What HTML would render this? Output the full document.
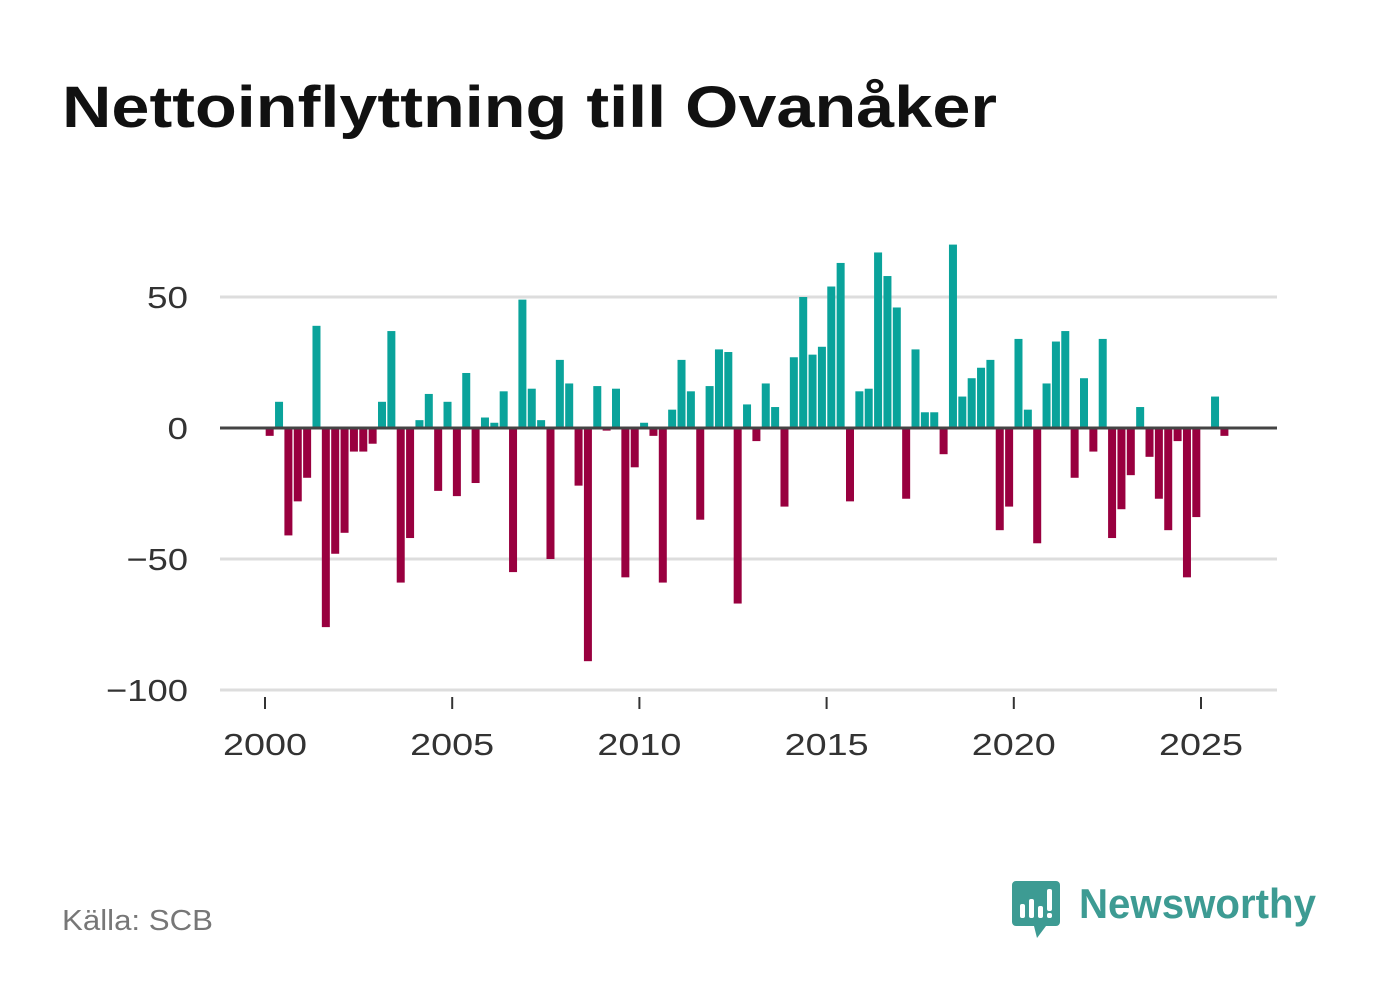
<!DOCTYPE html>
<html><head><meta charset="utf-8"><style>
html,body{margin:0;padding:0;background:#fff;width:1382px;height:999px;overflow:hidden}
svg{display:block;font-family:"Liberation Sans",sans-serif}
</style></head><body>
<svg width="1382" height="999" viewBox="0 0 1382 999">
<text x="62" y="127" font-size="58" font-weight="bold" fill="#111" textLength="935" lengthAdjust="spacingAndGlyphs">Nettoinflyttning till Ovanåker</text>
<g id="grid"></g>
<g id="bars"></g>
<g id="xaxis"></g>
<text x="62" y="930" font-size="29" fill="#777" textLength="151" lengthAdjust="spacingAndGlyphs">Källa: SCB</text>
<g>
<path d="M1016 881 h40 a4 4 0 0 1 4 4 v37 a4 4 0 0 1 -4 4 h-10 l-9 12 l-3 -12 h-18 a4 4 0 0 1 -4 -4 v-37 a4 4 0 0 1 4 -4z" fill="#3d9b93"/>
<rect x="1020" y="904" width="5" height="14" rx="2" fill="#fff"/>
<rect x="1029" y="899" width="5" height="19" rx="2" fill="#fff"/>
<rect x="1038" y="906" width="5" height="12" rx="2" fill="#fff"/>
<rect x="1047" y="889" width="5" height="22" rx="2" fill="#fff"/>
<rect x="1047" y="913" width="5" height="5" rx="2" fill="#fff"/>
<text x="1079" y="918" font-size="42" font-weight="bold" fill="#3d9b93" textLength="237" lengthAdjust="spacingAndGlyphs">Newsworthy</text>
</g>
</svg>
<script>
const years=[2000,2005,2010,2015,2020,2025];
const yTicks=[50,0,-50,-100];
const yTickLabels=["50","0","\u221250","\u2212100"];
const values=[-3,10,-41,-28, -19,39,-76,-48, -40,-9,-9,-6, 10,37,-59,-42, 3,13,-24,10,
 -26,21,-21,4, 2,14,-55,49, 15,3,-50,26, 17,-22,-89,16, -1,15,-57,-15,
 2,-3,-59,7, 26,14,-35,16, 30,29,-67,9, -5,17,8,-30, 27,50,28,31,
 54,63,-28,14, 15,67,58,46, -27,30,6,6, -10,70,12,19, 23,26,-39,-30,
 34,7,-44,17, 33,37,-19,19, -9,34,-42,-31, -18,8,-11,-27, -39,-5,-57,-34,
 0,12,-3];
const NS="http://www.w3.org/2000/svg";
const x=t=>265+(t-2000)*37.44;
const y=v=>428-v*2.62;
function mk(tag,attrs,parent){const e=document.createElementNS(NS,tag);for(const k in attrs)e.setAttribute(k,attrs[k]);parent.appendChild(e);return e;}
const grid=document.getElementById('grid'),bars=document.getElementById('bars'),xa=document.getElementById('xaxis');
yTicks.forEach((v,i)=>{
 if(v!==0){const l=mk('line',{x1:220,x2:1277,y1:y(v),y2:y(v),stroke:'#ddd','stroke-width':3},grid);
 
 }
 const t=mk('text',{x:188,y:y(v)+11,'text-anchor':'end','font-size':31,fill:'#333',textLength:yTickLabels[i].length*20.5,lengthAdjust:'spacingAndGlyphs'},grid);t.textContent=yTickLabels[i];
 
 
});
values.forEach((v,i)=>{
 const c=x(2000+(i+0.5)/4);
 const r=mk('rect',{x:c-4,width:8,y:Math.min(y(v),428),height:Math.abs(y(v)-428),fill:v>=0?'#0aa39b':'#99003f'},bars);
 
 
});
const z=mk('line',{x1:220,x2:1277,y1:428,y2:428,stroke:'#444','stroke-width':3},bars);


years.forEach(yr=>{
 const tk=mk('line',{x1:x(yr),x2:x(yr),y1:697,y2:709,stroke:'#333','stroke-width':2},xa);
 
 
 const t=mk('text',{x:x(yr),y:755,'text-anchor':'middle','font-size':31,fill:'#333',textLength:84,lengthAdjust:'spacingAndGlyphs'},xa);t.textContent=yr;
 
 
});
</script>
</body></html>
